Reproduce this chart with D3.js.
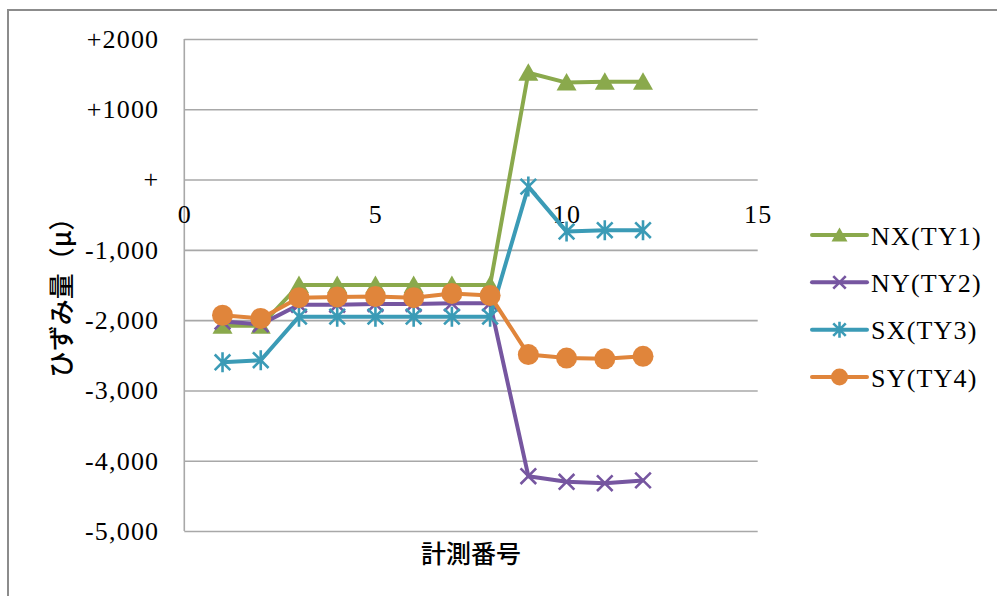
<!DOCTYPE html>
<html>
<head>
<meta charset="utf-8">
<script src="https://cdn.jsdelivr.net/npm/d3@7"></script>
<style>
  html, body { margin: 0; padding: 0; background: #fff; }
  svg { display: block; }
</style>
</head>
<body>
<script>
// Measurement numbers along the x axis
const measureNo = [1, 2, 3, 4, 5, 6, 7, 8, 9, 10, 11, 12];

// Strain readings (μ) per gauge
const nxTY1 = [-2080, -2080, -1500, -1500, -1500, -1500, -1500, -1500, 1520, 1380, 1390, 1390];
const nyTY2 = [-2020, -2060, -1780, -1780, -1770, -1770, -1760, -1760, -4220, -4300, -4320, -4280];
const sxTY3 = [-2600, -2570, -1950, -1950, -1950, -1950, -1950, -1950, -100, -740, -720, -720];
const syTY4 = [-1930, -1975, -1680, -1670, -1665, -1680, -1620, -1650, -2490, -2540, -2550, -2515];

const seriesNames = ["NX(TY1)", "NY(TY2)", "SX(TY3)", "SY(TY4)"];

// Axis ticks
const yTickValues = [-5000, -4000, -3000, -2000, -1000, 0, 1000, 2000];
const yTickLabels = ["-5,000", "-4,000", "-3,000", "-2,000", "-1,000", "+", "+1000", "+2000"];
const xTickValues = [0, 5, 10, 15];
const xTickLabels = ["0", "5", "10", "15"];

const W = 997, H = 596;
const serifFont = "'Liberation Serif', 'DejaVu Serif', serif";
const cjkFont = "'Noto Sans CJK JP', 'Noto Sans', sans-serif";

const series = [
  { name: seriesNames[0], values: nxTY1, color: "#8aa94c", marker: "triangle" },
  { name: seriesNames[1], values: nyTY2, color: "#7656a0", marker: "cross" },
  { name: seriesNames[2], values: sxTY3, color: "#3b9bb6", marker: "star" },
  { name: seriesNames[3], values: syTY4, color: "#e0853b", marker: "circle" }
];

const svg = d3.select("body").append("svg")
  .attr("width", W).attr("height", H);

svg.append("rect").attr("width", W).attr("height", H).attr("fill", "#fff");

// Chart frame (runs off the right and bottom edges)
svg.append("rect")
  .attr("x", 8).attr("y", 10)
  .attr("width", W + 20).attr("height", H + 20)
  .attr("fill", "none").attr("stroke", "#8c8c8c").attr("stroke-width", 2);

const x = d3.scaleLinear().domain([0, 15]).range([184.3, 757.7]);
const y = d3.scaleLinear().domain([-5000, 2000]).range([531, 39]);

// Horizontal gridlines
const grid = svg.append("g")
  .attr("transform", `translate(${x(0)},0)`)
  .call(d3.axisLeft(y).tickValues(yTickValues)
    .tickSize(-(x(15) - x(0))).tickFormat(""));
grid.select(".domain").remove();
grid.selectAll(".tick line").attr("stroke", "#a8a8a8").attr("stroke-width", 1.6);

// Vertical value axis line
svg.append("line")
  .attr("x1", x(0)).attr("x2", x(0))
  .attr("y1", y(2000)).attr("y2", y(-5000))
  .attr("stroke", "#a8a8a8").attr("stroke-width", 1.6);

// Y tick labels
const yAxis = svg.append("g")
  .attr("transform", `translate(${x(0)},0)`)
  .call(d3.axisLeft(y).tickValues(yTickValues).tickSize(0).tickPadding(25)
    .tickFormat((d, i) => yTickLabels[i]));
yAxis.select(".domain").remove();
yAxis.selectAll("text")
  .attr("font-family", serifFont).attr("font-size", 26)
  .attr("letter-spacing", 1.2).attr("fill", "#000");

// X tick labels, hung from the zero line
const xAxis = svg.append("g")
  .attr("transform", `translate(0,${y(0)})`)
  .call(d3.axisBottom(x).tickValues(xTickValues).tickSize(0).tickPadding(25)
    .tickFormat((d, i) => xTickLabels[i]));
xAxis.select(".domain").remove();
xAxis.selectAll("text")
  .attr("font-family", serifFont).attr("font-size", 26)
  .attr("letter-spacing", 1.2).attr("fill", "#000");

// Axis titles
svg.append("text")
  .attr("x", (x(0) + x(15)) / 2).attr("y", 552)
  .attr("text-anchor", "middle").attr("dominant-baseline", "central")
  .attr("font-family", cjkFont).attr("font-size", 25).attr("font-weight", 500)
  .attr("fill", "#000")
  .text("計測番号");

svg.append("text")
  .attr("transform", `translate(59,${(y(2000) + y(-5000)) / 2 + 6}) rotate(-90)`)
  .attr("text-anchor", "middle").attr("dominant-baseline", "central")
  .attr("font-family", cjkFont).attr("font-size", 26).attr("font-weight", 500)
  .attr("fill", "#000")
  .text("ひずみ量（μ）");

// Marker drawing
function drawMarker(g, type, color, s) {
  const h = s / 2;
  if (type === "triangle") {
    g.append("path")
      .attr("d", `M0,${-h * 0.95}L${h},${h * 0.8}L${-h},${h * 0.8}Z`)
      .attr("fill", color);
  } else if (type === "circle") {
    g.append("circle").attr("r", h).attr("fill", color);
  } else {
    const k = h * 0.78;
    const d = [`M${-k},${-k}L${k},${k}`, `M${-k},${k}L${k},${-k}`];
    if (type === "star") d.push(`M0,${-h}L0,${h}`);
    g.append("path").attr("d", d.join(""))
      .attr("stroke", color).attr("stroke-width", 2.6).attr("fill", "none");
  }
}

const line = d3.line()
  .x((d, i) => x(measureNo[i]))
  .y(d => y(d));

series.forEach(s => {
  const g = svg.append("g");
  g.append("path")
    .attr("d", line(s.values))
    .attr("fill", "none").attr("stroke", s.color)
    .attr("stroke-width", 4).attr("stroke-linejoin", "round")
    .attr("stroke-linecap", "round");
  s.values.forEach((v, i) => {
    const m = g.append("g").attr("transform", `translate(${x(measureNo[i])},${y(v)})`);
    drawMarker(m, s.marker, s.color, s.marker === "circle" ? 21 : 20);
  });
});

// Legend
const legendY = d3.scalePoint().domain(seriesNames).range([235, 377]);
series.forEach(s => {
  const ly = legendY(s.name);
  const g = svg.append("g");
  g.append("line")
    .attr("x1", 812).attr("x2", 867).attr("y1", ly).attr("y2", ly)
    .attr("stroke", s.color).attr("stroke-width", 4).attr("stroke-linecap", "round");
  const m = g.append("g").attr("transform", `translate(839.5,${ly})`);
  drawMarker(m, s.marker, s.color, s.marker === "circle" ? 17 : 16);
  g.append("text")
    .attr("x", 871).attr("y", ly + 1)
    .attr("dominant-baseline", "central")
    .attr("font-family", serifFont).attr("font-size", 26)
    .attr("letter-spacing", 1.2).attr("fill", "#000")
    .text(s.name);
});
</script>
</body>
</html>
